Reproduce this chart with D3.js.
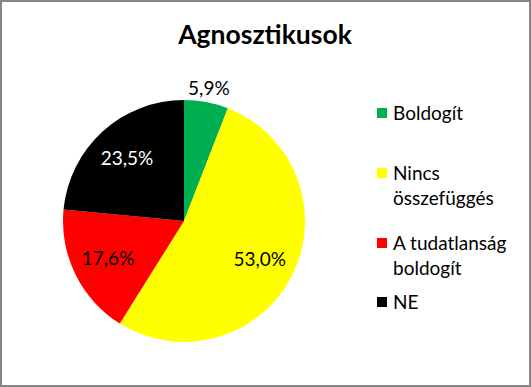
<!DOCTYPE html>
<html>
<head>
<meta charset="utf-8">
<script src="https://cdn.jsdelivr.net/npm/d3@7"></script>
<style>
  body { margin: 0; background: #fff; }
  text { font-family: Lato, "Liberation Sans", sans-serif; }
</style>
</head>
<body>
<svg id="chart" width="531" height="387"></svg>
<script>
// ------Data------
var categories = ["Boldogít", "Nincs összefüggés", "A tudatlanság boldogít", "NE"];
var legendLines = [["Boldogít"], ["Nincs", "összefüggés"], ["A tudatlanság", "boldogít"], ["NE"]];
var values = [5.9, 53.0, 17.6, 23.5];
var labels = ["5,9%", "53,0%", "17,6%", "23,5%"];
var colors = ["#00B050", "#FFFF00", "#FF0000", "#000000"];
var labelColors = ["#000000", "#000000", "#000000", "#FFFFFF"];

var svg = d3.select("#chart");
var width = 531, height = 387;

// Border
svg.append("rect")
    .attr("x", 1).attr("y", 1)
    .attr("width", width - 2).attr("height", height - 2)
    .attr("fill", "#fff")
    .attr("stroke", "#868686")
    .attr("stroke-width", 2)

// Title
svg.append("text")
    .attr("x", 265)
    .attr("y", 44)
    .attr("font-size", "26.5px")
    .attr("font-weight", "bold")
    .attr("text-anchor", "middle")
    .text("Agnosztikusok")

// ------Pie------
var cx = 184, cy = 221, radius = 121;
var g = svg.append("g").attr("transform", "translate(" + cx + "," + cy + ")");

var pie = d3.pie().sort(null).value(function(d) { return d; });
var arcs = pie(values);
var arc = d3.arc().innerRadius(0).outerRadius(radius);
var labelArc = d3.arc().innerRadius(radius * 0.7).outerRadius(radius * 0.7);
var outerArc = d3.arc().innerRadius(radius + 14).outerRadius(radius + 14);

g.selectAll("path.slice")
    .data(arcs)
    .enter()
    .append("path")
    .attr("class", "slice")
    .attr("d", arc)
    .attr("fill", function(d, i) { return colors[i]; })

g.selectAll("text.lbl")
    .data(arcs)
    .enter()
    .append("text")
    .attr("class", "lbl")
    .attr("transform", function(d) {
        var small = (d.endAngle - d.startAngle) < 0.1 * 2 * Math.PI;
        var c = small ? outerArc.centroid(d) : labelArc.centroid(d);
        return "translate(" + c[0] + "," + c[1] + ")";
    })
    .attr("dy", "0.35em")
    .attr("text-anchor", "middle")
    .attr("font-size", "19px")
    .attr("fill", function(d, i) { return labelColors[i]; })
    .text(function(d, i) { return labels[i]; })

// ------Legend------
// first-line y of each entry, lines 25px apart
var legendTop = [113, 173, 243, 302];
var lg = svg.append("g");
categories.forEach(function(c, i) {
    var y0 = legendTop[i];
    lg.append("rect")
        .attr("x", 377)
        .attr("y", y0 - 5)
        .attr("width", 10)
        .attr("height", 10)
        .attr("fill", colors[i])
    legendLines[i].forEach(function(t, j) {
        lg.append("text")
            .attr("x", 393)
            .attr("y", y0 + j * 25.5)
            .attr("dy", "0.35em")
            .attr("font-size", "19px")
            .text(t)
    });
});
</script>
</body>
</html>
